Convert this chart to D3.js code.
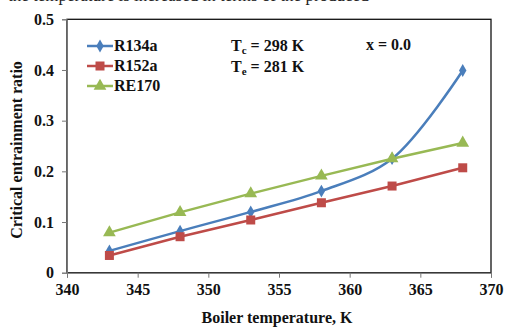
<!DOCTYPE html>
<html>
<head>
<meta charset="utf-8">
<script src="https://d3js.org/d3.v7.min.js"></script>
<style>
body{margin:0;background:#fff;}
svg text{font-family:"Liberation Serif","Times New Roman",serif;font-weight:700;}
</style>
</head>
<body>
<div id="chart"></div>
<script>
const temps = [343, 348, 353, 358, 363, 368];
const r134a = [0.043, 0.082, 0.120, 0.161, 0.225, 0.399];
const r152a = [0.034, 0.071, 0.104, 0.138, 0.171, 0.207];
const re170 = [0.079, 0.119, 0.156, 0.191, 0.225, 0.256];
const xTicks = [340, 345, 350, 355, 360, 365, 370];
const yTicks = [0, 0.1, 0.2, 0.3, 0.4, 0.5];

const series = [
  {name:'R134a', values:r134a, color:'#4A7EBB', shape:'diamond', smooth:true},
  {name:'R152a', values:r152a, color:'#BE4B48', shape:'square', smooth:false},
  {name:'RE170', values:re170, color:'#98B954', shape:'triangle', smooth:false}
];

const width = 506, height = 327;
const margin = {top:19.3, left:67, right:15, bottom:54.3};
const plotW = width - margin.left - margin.right;
const plotH = height - margin.top - margin.bottom;

const svg = d3.select('#chart').append('svg')
  .attr('width', width).attr('height', height);

// line of page text above the figure, only its bottom edge shows
svg.append('text')
  .attr('x', 8).attr('y', 1)
  .style('font-size', '17px').style('font-weight', 400)
  .attr('fill', '#222')
  .text('the temperature is increased in terms of the produced');

const x = d3.scaleLinear().domain([340, 370]).range([0, plotW]);
const y = d3.scaleLinear().domain([0, 0.5]).range([plotH, 0]);

const g = svg.append('g').attr('transform', `translate(${margin.left},${margin.top})`);

// plot frame
g.append('rect')
  .attr('width', plotW).attr('height', plotH)
  .attr('fill', 'none').attr('stroke', '#111').attr('stroke-width', 1.3);

const yAxis = g.append('g')
  .call(d3.axisLeft(y).tickValues(yTicks).tickFormat(d => d === 0 ? '0' : d3.format('.1f')(d)).tickSize(5).tickPadding(8));
const xAxis = g.append('g')
  .attr('transform', `translate(0,${plotH})`)
  .call(d3.axisBottom(x).tickValues(xTicks).tickSize(5).tickPadding(6));

[xAxis, yAxis].forEach(a => {
  a.attr('font-family', null).attr('font-size', null);
  a.select('.domain').attr('stroke', '#777');
  a.selectAll('.tick line').attr('stroke', '#777');
  a.selectAll('.tick text')
    .style('font-size', '16px')
    .attr('fill', '#111');
});

svg.append('text')
  .attr('x', margin.left + plotW / 2 - 2).attr('y', 323)
  .attr('text-anchor', 'middle').style('font-size', '16px').attr('fill', '#111')
  .text('Boiler temperature, K');

svg.append('text')
  .attr('transform', 'translate(22,150) rotate(-90)')
  .attr('text-anchor', 'middle').style('font-size', '16px').attr('fill', '#111')
  .text('Critical entrainment ratio');

function marker(sel, shape, color, cx, cy) {
  if (shape === 'square') {
    sel.append('rect').attr('x', cx - 4.5).attr('y', cy - 4.5)
      .attr('width', 9).attr('height', 9).attr('fill', color);
  } else {
    const sym = shape === 'diamond' ? d3.symbolDiamond : d3.symbolTriangle;
    const size = shape === 'diamond' ? 48 : 70;
    sel.append('path')
      .attr('d', d3.symbol().type(sym).size(size)())
      .attr('transform', `translate(${cx},${cy})`)
      .attr('fill', color);
  }
}

series.forEach(s => {
  const pts = temps.map((t, i) => [x(t), y(s.values[i])]);
  const line = d3.line().curve(s.smooth ? d3.curveCatmullRom.alpha(0.5) : d3.curveLinear);
  g.append('path')
    .attr('d', line(pts))
    .attr('fill', 'none').attr('stroke', s.color).attr('stroke-width', 2.5);
  pts.forEach(p => marker(g, s.shape, s.color, p[0], p[1]));
});

// legend
const leg = svg.append('g');
series.forEach((s, i) => {
  const ly = 46 + i * 20;
  leg.append('line').attr('x1', 87).attr('x2', 113).attr('y1', ly).attr('y2', ly)
    .attr('stroke', s.color).attr('stroke-width', 2.5);
  marker(leg, s.shape, s.color, 100, ly);
  leg.append('text').attr('x', 114).attr('y', ly + 5)
    .style('font-size', '16px').attr('fill', '#111').text(s.name);
});

const info = [['T', 'c', ' = 298 K', 231, 51], ['T', 'e', ' = 281 K', 231, 72]];
info.forEach(([a, sub, rest, tx, ty]) => {
  const t = svg.append('text').attr('x', tx).attr('y', ty).style('font-size', '16px').attr('fill', '#111');
  t.append('tspan').text(a);
  t.append('tspan').attr('dy', 3).style('font-size', '11px').text(sub);
  t.append('tspan').attr('dy', -3).text(rest);
});
svg.append('text').attr('x', 366).attr('y', 50).style('font-size', '16px').attr('fill', '#111').text('x = 0.0');
</script>
</body>
</html>
